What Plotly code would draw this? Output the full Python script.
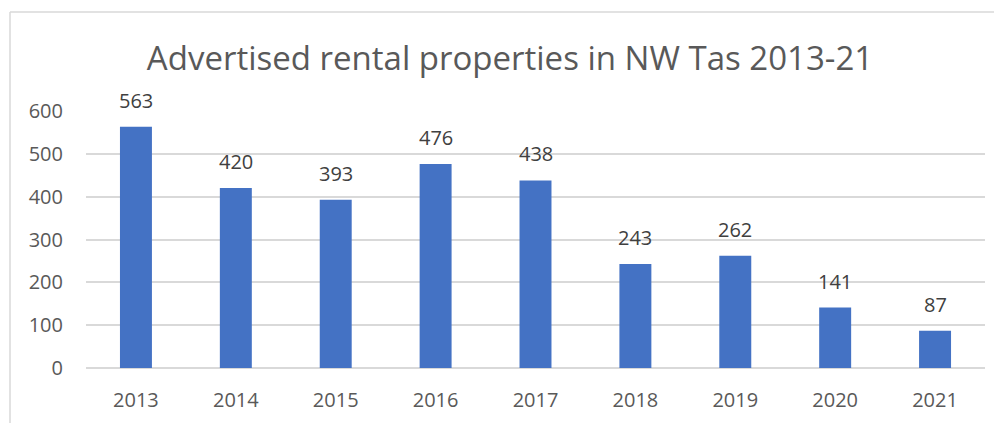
import plotly.graph_objects as go

years = ["2013", "2014", "2015", "2016", "2017", "2018", "2019", "2020", "2021"]
counts = [563, 420, 393, 476, 438, 243, 262, 141, 87]
y_ticks = [0, 100, 200, 300, 400, 500, 600]

# page body has an 8px margin, so figure coords = screen - 8
OFF = 8
W, H = 1002, 423
L, T = 86 - OFF, 111 - OFF
plot_right = 985 - OFF
plot_bottom = 368 - OFF
R = W - plot_right
B = H - plot_bottom
pw, ph = W - L - R, H - T - B

def px_x(p):
    return (p - OFF - L) / pw

def px_y(p):
    return (H - B - (p - OFF)) / ph

FONT = "Open Sans, sans-serif"

fig = go.Figure(go.Bar(
    x=years, y=counts,
    marker=dict(color="#4472C4", line=dict(width=0)),
    width=0.32,
    cliponaxis=False,
))

# data labels: category index positions on the category axis
for i, v in enumerate(counts):
    fig.add_annotation(x=i, y=v, xref="x", yref="y", text=str(v), showarrow=False,
                       yanchor="bottom", yshift=11,
                       font=dict(size=20, color="#404040", family=FONT))

fig.update_layout(
    width=W, height=H,
    margin=dict(l=L, r=R, t=T, b=B),
    paper_bgcolor="white", plot_bgcolor="white",
    showlegend=False,
    title=dict(
        text="Advertised rental properties in NW Tas 2013-21",
        x=(510 - OFF) / W, xanchor="center", y=1 - (58 - OFF) / H, yanchor="middle",
        font=dict(size=33, color="#595959", family=FONT),
    ),
    font=dict(family=FONT, color="#595959", size=20),
    xaxis=dict(type="category", range=[-0.5, len(years) - 0.5], showgrid=False, showline=False,
               ticks="", ticklabelstandoff=18,
               tickfont=dict(size=20, color="#595959")),
    yaxis=dict(range=[0, 600], tickvals=y_ticks, showgrid=True, gridcolor="#D9D9D9", gridwidth=1.5,
               zeroline=True, zerolinecolor="#D9D9D9", zerolinewidth=1.5,
               showline=False, ticks="", ticklabelstandoff=22,
               tickfont=dict(size=20, color="#595959")),
    shapes=[
        dict(type="line", xref="paper", yref="paper", x0=px_x(10), x1=px_x(1010), y0=px_y(12), y1=px_y(12),
             line=dict(color="#D9D9D9", width=1.5)),
        dict(type="line", xref="paper", yref="paper", x0=px_x(10), x1=px_x(10), y0=px_y(12), y1=px_y(440),
             line=dict(color="#D9D9D9", width=1.5)),
    ],
)

fig.write_html("out.html")
